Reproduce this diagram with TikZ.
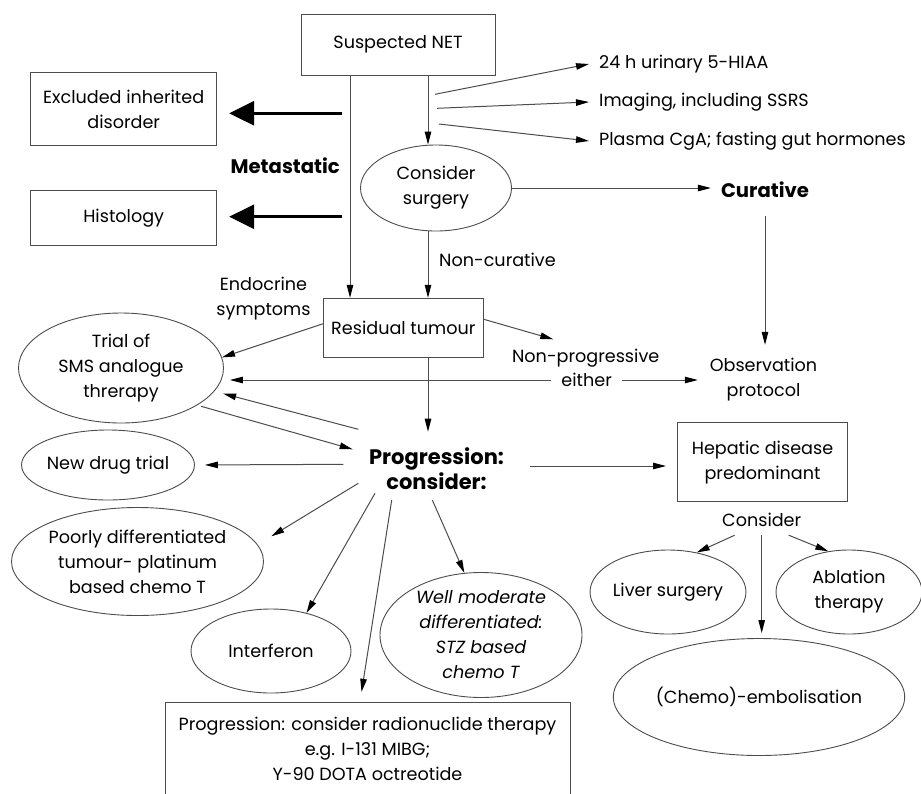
\documentclass[tikz,border=0pt]{standalone}
\usepackage{fontspec}
\setmainfont{Poppins}
\usetikzlibrary{shapes.geometric,arrows.meta}
\begin{document}
\begin{tikzpicture}[x=1pt,y=-1pt,
  every node/.style={font=\fontsize{17.6}{25}\selectfont, text=black, inner sep=0pt},
  ln/.style={draw=black!70, line width=1pt},
  arr/.style={ln, -{Triangle[length=13pt,width=6.5pt,color=black]}},
  box/.style={draw=black!70, line width=1pt, rectangle, align=center},
  ell/.style={draw=black!70, line width=0.9pt, ellipse, align=center},
  bigarr/.style={draw=black, line width=3pt, -{Triangle[length=25pt,width=24pt]}},
  bold/.style={font=\fontsize{19.6}{25}\selectfont\bfseries},
  bolder/.style={font=\fontsize{21}{25}\selectfont\bfseries}
]
\useasboundingbox (0,0) rectangle (921,793);
\clip (0,0) rectangle (921,793);

% top
\node[box, minimum width=194, minimum height=61] (net) at (398,44.5) {Suspected NET};
\node[box, minimum width=186, minimum height=72.7] (excl) at (123.7,109.3) {Excluded inherited\\disorder};
\node[box, minimum width=186, minimum height=55.3] (hist) at (123.7,218.3) {Histology};
\node[bold, anchor=east] (meta) at (340,166) {Metastatic};
\node[ell, minimum width=151, minimum height=86] (cs) at (436,188) {Consider\\surgery};
\node[anchor=west, inner xsep=10pt] (t1) at (589,64) {24 h urinary 5-HIAA};
\node[anchor=west, inner xsep=10pt] (t2) at (589,102) {Imaging, including SSRS};
\node[anchor=west, inner xsep=10pt] (t3) at (589,141) {Plasma CgA; fasting gut hormones};
\node[bold, minimum height=52, inner xsep=10pt] (cur) at (765,190) {Curative};
\node[align=center, minimum width=131, minimum height=70] (obs) at (763.5,380) {Observation\\protocol};

% middle
\node[box, minimum width=160, minimum height=59] (res) at (403.3,327.8) {Residual tumour};
\node[anchor=west] (nc) at (439,260) {Non-curative};
\node[align=center] (endo) at (263.5,299) {Endocrine\\symptoms};
\node[ell, minimum width=205, minimum height=110] (trial) at (121,368) {Trial of\\SMS analogue\\threrapy};
\node (np) at (585.7,358) {Non-progressive};
\node[bolder, align=center] (prog) at (436.5,469) {Progression:\\consider:};
\node[box, minimum width=170, minimum height=79] (hep) at (762.5,462.2) {Hepatic disease\\predominant};
\node[minimum height=30] (cons) at (761.7,520) {Consider};

% lower
\node[ell, minimum width=172, minimum height=70] (newd) at (108,465) {New drug trial};
\node[ell, minimum width=252, minimum height=108] (poor) at (137.5,561.5) {Poorly differentiated\\tumour- platinum\\based chemo T};
\node[ell, minimum width=160, minimum height=84] (intf) at (271,651) {Interferon};
\node[ell, minimum width=202, minimum height=125, font=\fontsize{17.6}{25}\selectfont\itshape] (well) at (481,635) {Well moderate\\differentiated:\\STZ based\\chemo T};
\node[box, anchor=north, minimum width=405, inner ysep=15pt, text depth=30pt] (rad) at (367.5,701.7) {Progression: consider radionuclide therapy\\e.g. I-131 MIBG;\\Y-90 DOTA octreotide};
\node[ell, minimum width=150, minimum height=84] (liver) at (668,592) {Liver surgery};
\node[ell, minimum width=146, minimum height=84] (abl) at (849,592) {Ablation\\therapy};
\node[ell, minimum width=228, minimum height=117] (chemo) at (759,697) {(Chemo)-embolisation};

% coordinates
\coordinate (vx) at ([xshift=30pt]net.south);
\coordinate (vm) at ([xshift=-48pt]net.south);
\coordinate (s1) at (435,94.3);
\coordinate (s2) at (437,108.3);
\coordinate (s3) at (439,124);
\coordinate (m1) at (341.7,113.3);
\coordinate (m2) at (341.7,216.7);
\coordinate (npt) at (553.3,339.3);
\coordinate (pTop) at (428,431.7);
\coordinate (pA) at (358.3,429.3);
\coordinate (pB) at (352.7,449.3);
\coordinate (pC) at (343.3,464.3);
\coordinate (pD) at (358.3,483.3);
\coordinate (pE) at (375,493.3);
\coordinate (pF) at (391.7,500);
\coordinate (pG) at (432.3,500);
\coordinate (pH) at (530,466);

% connectors top
\draw[arr] (vx) -- (vx |- cs.north);
\draw[arr] (vm) -- (vm |- res.north);
\draw[arr] (s1) -- (t1.west);
\draw[arr] (s2) -- (t2.west);
\draw[arr] (s3) -- (t3.west);
\draw[bigarr, shorten >=12pt] (m1) -- (m1 -| excl.east);
\draw[bigarr, shorten >=12pt] (m2) -- (m2 -| hist.east);
\draw[arr] (cs.east) -- (cs.east -| cur.west);
\draw[arr] (cur.south) -- (cur.south |- obs.north);
\draw[arr] (vx |- cs.south) -- (vx |- res.north);

% connectors middle
\draw[arr] ([yshift=4pt]res.west) -- (trial.6);
\draw[arr] ([yshift=8.5pt]res.east) -- (npt);
\draw[ln, {Triangle[length=13pt,width=6.5pt,color=black]}-{Triangle[length=13pt,width=6.5pt,color=black]}, shorten <=6pt]
  (trial.east |- obs.west) -- node[pos=0.7655, fill=white, inner xsep=10pt, inner ysep=3pt] (eith) {either} (obs.west);
\draw[arr] (vx |- res.south) -- (pTop);
\draw[arr, shorten >=9pt] (pA) -- (trial.-14);
\draw[arr, shorten <=4pt] (trial.-26) -- (pB);
\draw[arr, shorten >=10pt] (pC) -- (newd.east);
\draw[arr, shorten >=16pt] (pD) -- (poor.8);
\draw[arr] (pE) -- (intf.47);
\draw[arr, shorten >=10pt] (pF) -- ([xshift=-7.5pt]rad.north);
\draw[arr] (pG) -- (well.105);
\draw[arr, shorten >=11pt] (pH) -- (pH -| hep.west);

% hepatic
\draw[arr] ([xshift=-27pt]cons.south) -- (liver.54);
\draw[arr, shorten >=5pt] (cons.south) -- (cons.south |- chemo.north);
\draw[arr] ([xshift=27pt]cons.south) -- (abl.117);
\end{tikzpicture}
\end{document}
